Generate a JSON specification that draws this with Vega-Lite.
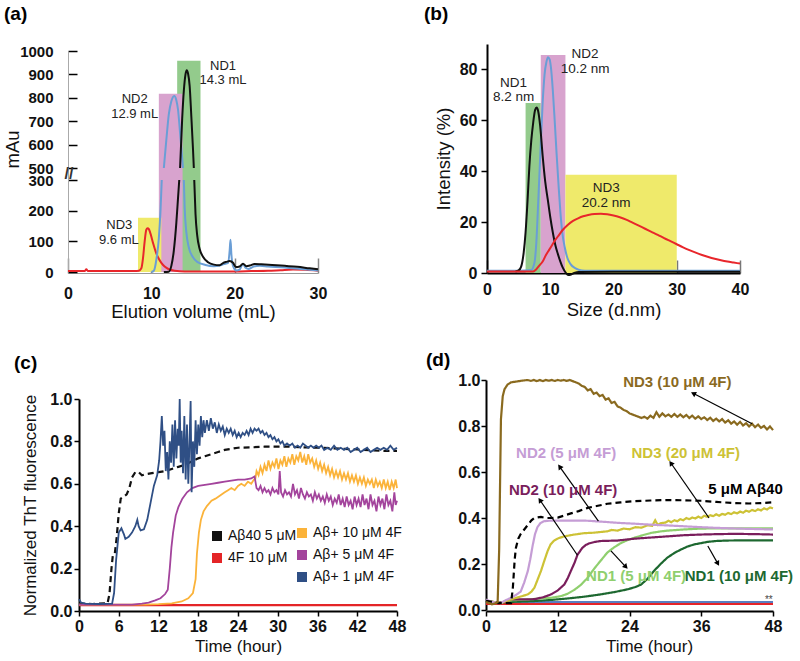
{
"$schema": "https://vega.github.io/schema/vega-lite/v6.json",
"background": "white",
"padding": {"left": 3, "top": 5, "right": 5, "bottom": 5},
"config": {
  "font": "Liberation Sans",
  "view": {"stroke": null},
  "axis": {"labelFont": "Liberation Sans", "labelFontWeight": "bold", "labelFontSize": 16, "labelColor": "#111", "titleFont": "Liberation Sans", "titleFontWeight": "normal", "titleFontSize": 17, "titleColor": "#111", "domainColor": "#000", "domainWidth": 2, "tickColor": "#000", "tickWidth": 1.5, "grid": false, "labelOverlap": false, "labelFlush": false},
  "title": {"font": "Liberation Sans", "fontSize": 19, "fontWeight": "bold", "anchor": "start", "frame": "group", "color": "#000"},
  "legend": {"labelFont": "Liberation Sans", "labelFontSize": 14, "labelColor": "#111"}
},
"datasets": {
  "a_rects": [
    {"band": "ND1", "x": 13.1, "xe": 15.9, "y": 958},
    {"band": "ND2", "x": 10.9, "xe": 13.75, "y": 817},
    {"band": "ND3", "x": 8.4, "xe": 11.2, "y": 177}
  ],
  "a_curves": [
    {"s": "ND3", "seg": "r", "x": 0, "y": 3}, {"s": "ND3", "seg": "r", "x": 1, "y": 3}, {"s": "ND3", "seg": "r", "x": 2.0, "y": 3}, {"s": "ND3", "seg": "r", "x": 2.2, "y": 9}, {"s": "ND3", "seg": "r", "x": 2.4, "y": 3}, {"s": "ND3", "seg": "r", "x": 4, "y": 3}, {"s": "ND3", "seg": "r", "x": 6, "y": 3}, {"s": "ND3", "seg": "r", "x": 8, "y": 3}, {"s": "ND3", "seg": "r", "x": 8.5, "y": 4}, {"s": "ND3", "seg": "r", "x": 8.8, "y": 12}, {"s": "ND3", "seg": "r", "x": 9.0, "y": 45}, {"s": "ND3", "seg": "r", "x": 9.2, "y": 100}, {"s": "ND3", "seg": "r", "x": 9.4, "y": 138}, {"s": "ND3", "seg": "r", "x": 9.55, "y": 143}, {"s": "ND3", "seg": "r", "x": 9.7, "y": 140}, {"s": "ND3", "seg": "r", "x": 9.9, "y": 125}, {"s": "ND3", "seg": "r", "x": 10.2, "y": 95}, {"s": "ND3", "seg": "r", "x": 10.5, "y": 68}, {"s": "ND3", "seg": "r", "x": 10.8, "y": 48}, {"s": "ND3", "seg": "r", "x": 11.2, "y": 30}, {"s": "ND3", "seg": "r", "x": 11.6, "y": 18}, {"s": "ND3", "seg": "r", "x": 12.1, "y": 9}, {"s": "ND3", "seg": "r", "x": 12.8, "y": 4}, {"s": "ND3", "seg": "r", "x": 14, "y": 2}, {"s": "ND3", "seg": "r", "x": 16, "y": 2}, {"s": "ND3", "seg": "r", "x": 18, "y": 2}, {"s": "ND3", "seg": "r", "x": 20, "y": 2}, {"s": "ND3", "seg": "r", "x": 22, "y": 3}, {"s": "ND3", "seg": "r", "x": 24, "y": 4}, {"s": "ND3", "seg": "r", "x": 25.5, "y": 6}, {"s": "ND3", "seg": "r", "x": 27, "y": 8}, {"s": "ND3", "seg": "r", "x": 28.5, "y": 7}, {"s": "ND3", "seg": "r", "x": 30, "y": 4},
    {"s": "ND2", "seg": "b1", "x": 10.0, "y": 0}, {"s": "ND2", "seg": "b1", "x": 10.3, "y": 4}, {"s": "ND2", "seg": "b1", "x": 10.6, "y": 40}, {"s": "ND2", "seg": "b1", "x": 10.9, "y": 110}, {"s": "ND2", "seg": "b1", "x": 11.1, "y": 200}, {"s": "ND2", "seg": "b1", "x": 11.25, "y": 300},
    {"s": "ND2", "seg": "b2", "x": 11.5, "y": 500}, {"s": "ND2", "seg": "b2", "x": 11.8, "y": 620}, {"s": "ND2", "seg": "b2", "x": 12.1, "y": 730}, {"s": "ND2", "seg": "b2", "x": 12.4, "y": 785}, {"s": "ND2", "seg": "b2", "x": 12.75, "y": 808}, {"s": "ND2", "seg": "b2", "x": 13.0, "y": 790}, {"s": "ND2", "seg": "b2", "x": 13.2, "y": 750}, {"s": "ND2", "seg": "b2", "x": 13.45, "y": 650}, {"s": "ND2", "seg": "b2", "x": 13.8, "y": 500},
    {"s": "ND2", "seg": "b3", "x": 13.9, "y": 300}, {"s": "ND2", "seg": "b3", "x": 14.0, "y": 210}, {"s": "ND2", "seg": "b3", "x": 14.2, "y": 130}, {"s": "ND2", "seg": "b3", "x": 14.5, "y": 80}, {"s": "ND2", "seg": "b3", "x": 15.0, "y": 48}, {"s": "ND2", "seg": "b3", "x": 15.5, "y": 33}, {"s": "ND2", "seg": "b3", "x": 16.5, "y": 23}, {"s": "ND2", "seg": "b3", "x": 17.5, "y": 19}, {"s": "ND2", "seg": "b3", "x": 18.2, "y": 21}, {"s": "ND2", "seg": "b3", "x": 18.7, "y": 26}, {"s": "ND2", "seg": "b3", "x": 19.2, "y": 29}, {"s": "ND2", "seg": "b3", "x": 19.4, "y": 70}, {"s": "ND2", "seg": "b3", "x": 19.5, "y": 105}, {"s": "ND2", "seg": "b3", "x": 19.6, "y": 60}, {"s": "ND2", "seg": "b3", "x": 19.8, "y": 20}, {"s": "ND2", "seg": "b3", "x": 20.2, "y": 5}, {"s": "ND2", "seg": "b3", "x": 20.6, "y": 8}, {"s": "ND2", "seg": "b3", "x": 21.0, "y": 27}, {"s": "ND2", "seg": "b3", "x": 21.3, "y": 14}, {"s": "ND2", "seg": "b3", "x": 21.7, "y": 10}, {"s": "ND2", "seg": "b3", "x": 22.3, "y": 18}, {"s": "ND2", "seg": "b3", "x": 23, "y": 20}, {"s": "ND2", "seg": "b3", "x": 24, "y": 18}, {"s": "ND2", "seg": "b3", "x": 26, "y": 15}, {"s": "ND2", "seg": "b3", "x": 28, "y": 10}, {"s": "ND2", "seg": "b3", "x": 30, "y": 5},
    {"s": "ND1", "seg": "k1", "x": 11.5, "y": 0}, {"s": "ND1", "seg": "k1", "x": 12.1, "y": 1}, {"s": "ND1", "seg": "k1", "x": 12.4, "y": 20}, {"s": "ND1", "seg": "k1", "x": 12.7, "y": 70}, {"s": "ND1", "seg": "k1", "x": 13.0, "y": 160}, {"s": "ND1", "seg": "k1", "x": 13.2, "y": 240}, {"s": "ND1", "seg": "k1", "x": 13.35, "y": 300},
    {"s": "ND1", "seg": "k2", "x": 13.45, "y": 500}, {"s": "ND1", "seg": "k2", "x": 13.7, "y": 710}, {"s": "ND1", "seg": "k2", "x": 13.9, "y": 830}, {"s": "ND1", "seg": "k2", "x": 14.1, "y": 900}, {"s": "ND1", "seg": "k2", "x": 14.25, "y": 918}, {"s": "ND1", "seg": "k2", "x": 14.4, "y": 905}, {"s": "ND1", "seg": "k2", "x": 14.6, "y": 850}, {"s": "ND1", "seg": "k2", "x": 14.8, "y": 720}, {"s": "ND1", "seg": "k2", "x": 15.0, "y": 580}, {"s": "ND1", "seg": "k2", "x": 15.1, "y": 500},
    {"s": "ND1", "seg": "k3", "x": 15.15, "y": 300}, {"s": "ND1", "seg": "k3", "x": 15.3, "y": 190}, {"s": "ND1", "seg": "k3", "x": 15.5, "y": 120}, {"s": "ND1", "seg": "k3", "x": 15.8, "y": 75}, {"s": "ND1", "seg": "k3", "x": 16.2, "y": 50}, {"s": "ND1", "seg": "k3", "x": 16.8, "y": 32}, {"s": "ND1", "seg": "k3", "x": 17.5, "y": 24}, {"s": "ND1", "seg": "k3", "x": 18.2, "y": 22}, {"s": "ND1", "seg": "k3", "x": 18.6, "y": 29}, {"s": "ND1", "seg": "k3", "x": 19.0, "y": 33}, {"s": "ND1", "seg": "k3", "x": 19.4, "y": 36}, {"s": "ND1", "seg": "k3", "x": 19.8, "y": 30}, {"s": "ND1", "seg": "k3", "x": 20.15, "y": 16}, {"s": "ND1", "seg": "k3", "x": 20.6, "y": 18}, {"s": "ND1", "seg": "k3", "x": 21.0, "y": 27}, {"s": "ND1", "seg": "k3", "x": 21.4, "y": 19}, {"s": "ND1", "seg": "k3", "x": 21.8, "y": 21}, {"s": "ND1", "seg": "k3", "x": 22.4, "y": 26}, {"s": "ND1", "seg": "k3", "x": 23.2, "y": 25}, {"s": "ND1", "seg": "k3", "x": 24.5, "y": 23}, {"s": "ND1", "seg": "k3", "x": 26, "y": 20}, {"s": "ND1", "seg": "k3", "x": 27.5, "y": 17}, {"s": "ND1", "seg": "k3", "x": 29, "y": 12}, {"s": "ND1", "seg": "k3", "x": 30, "y": 9}
  ],
  "a_labels": [
    {"x": 18.6, "y": 936, "label": "ND1"}, {"x": 18.6, "y": 876, "label": "14.3 mL"},
    {"x": 8.0, "y": 793, "label": "ND2"}, {"x": 8.0, "y": 729, "label": "12.9 mL"},
    {"x": 6.15, "y": 152, "label": "ND3"}, {"x": 6.1, "y": 104, "label": "9.6 mL"}
  ],
  "a_break": [{"x": 0, "y": 400, "label": "//"}],
  "b_rects": [
    {"band": "ND1", "x0": 6.1, "x1": 8.5, "top": 66.8},
    {"band": "ND2", "x0": 8.5, "x1": 12.4, "top": 85.7},
    {"band": "ND3", "x0": 12.4, "x1": 30, "top": 38.6}
  ],
  "b_curves": [
    {"s": "ND2", "x": 0, "y": 0.9}, {"s": "ND2", "x": 5, "y": 0.9}, {"s": "ND2", "x": 7, "y": 1.2}, {"s": "ND2", "x": 7.5, "y": 4}, {"s": "ND2", "x": 7.8, "y": 12}, {"s": "ND2", "x": 8.1, "y": 28}, {"s": "ND2", "x": 8.4, "y": 45}, {"s": "ND2", "x": 8.8, "y": 67}, {"s": "ND2", "x": 9.1, "y": 78}, {"s": "ND2", "x": 9.4, "y": 83}, {"s": "ND2", "x": 9.65, "y": 84.8}, {"s": "ND2", "x": 9.9, "y": 84}, {"s": "ND2", "x": 10.1, "y": 81}, {"s": "ND2", "x": 10.4, "y": 72}, {"s": "ND2", "x": 10.7, "y": 60}, {"s": "ND2", "x": 11.0, "y": 47}, {"s": "ND2", "x": 11.3, "y": 35}, {"s": "ND2", "x": 11.6, "y": 24}, {"s": "ND2", "x": 11.9, "y": 16}, {"s": "ND2", "x": 12.3, "y": 10}, {"s": "ND2", "x": 12.7, "y": 6}, {"s": "ND2", "x": 13.2, "y": 3.5}, {"s": "ND2", "x": 14, "y": 1.8}, {"s": "ND2", "x": 15, "y": 1}, {"s": "ND2", "x": 16, "y": 0.9}, {"s": "ND2", "x": 20, "y": 0.9}, {"s": "ND2", "x": 30, "y": 0.9}, {"s": "ND2", "x": 40, "y": 0.9},
    {"s": "ND1", "x": 4.5, "y": 0.6}, {"s": "ND1", "x": 5, "y": 1}, {"s": "ND1", "x": 5.4, "y": 2.5}, {"s": "ND1", "x": 5.8, "y": 8}, {"s": "ND1", "x": 6.1, "y": 16}, {"s": "ND1", "x": 6.4, "y": 28}, {"s": "ND1", "x": 6.7, "y": 42}, {"s": "ND1", "x": 7.0, "y": 52}, {"s": "ND1", "x": 7.3, "y": 59}, {"s": "ND1", "x": 7.6, "y": 64}, {"s": "ND1", "x": 7.85, "y": 65}, {"s": "ND1", "x": 8.1, "y": 63.5}, {"s": "ND1", "x": 8.4, "y": 58}, {"s": "ND1", "x": 8.8, "y": 46}, {"s": "ND1", "x": 9.2, "y": 36}, {"s": "ND1", "x": 9.6, "y": 29}, {"s": "ND1", "x": 10.0, "y": 22}, {"s": "ND1", "x": 10.4, "y": 16}, {"s": "ND1", "x": 10.8, "y": 11}, {"s": "ND1", "x": 11.2, "y": 7.5}, {"s": "ND1", "x": 11.6, "y": 4.5}, {"s": "ND1", "x": 12.0, "y": 2}, {"s": "ND1", "x": 12.4, "y": 0.3}, {"s": "ND1", "x": 12.8, "y": -0.8}, {"s": "ND1", "x": 13.3, "y": -0.6}, {"s": "ND1", "x": 13.8, "y": 0}, {"s": "ND1", "x": 14.5, "y": 0.4}, {"s": "ND1", "x": 20, "y": 0.5}, {"s": "ND1", "x": 30, "y": 0.5}, {"s": "ND1", "x": 40, "y": 0.5},
    {"s": "ND3", "x": 0, "y": 0.6}, {"s": "ND3", "x": 3, "y": 0.6}, {"s": "ND3", "x": 7.3, "y": 0.6}, {"s": "ND3", "x": 7.8, "y": 1.5}, {"s": "ND3", "x": 8.3, "y": 3}, {"s": "ND3", "x": 8.8, "y": 4.5}, {"s": "ND3", "x": 9.3, "y": 7}, {"s": "ND3", "x": 9.8, "y": 9}, {"s": "ND3", "x": 10.3, "y": 11}, {"s": "ND3", "x": 10.8, "y": 13}, {"s": "ND3", "x": 11.4, "y": 15}, {"s": "ND3", "x": 12, "y": 17}, {"s": "ND3", "x": 12.8, "y": 19}, {"s": "ND3", "x": 13.6, "y": 20.5}, {"s": "ND3", "x": 14.4, "y": 21.5}, {"s": "ND3", "x": 15.2, "y": 22.3}, {"s": "ND3", "x": 16, "y": 22.8}, {"s": "ND3", "x": 17, "y": 23.2}, {"s": "ND3", "x": 18, "y": 23.3}, {"s": "ND3", "x": 19, "y": 23.1}, {"s": "ND3", "x": 20, "y": 22.6}, {"s": "ND3", "x": 21, "y": 21.9}, {"s": "ND3", "x": 22, "y": 21.0}, {"s": "ND3", "x": 23, "y": 19.8}, {"s": "ND3", "x": 24, "y": 18.6}, {"s": "ND3", "x": 25, "y": 17.4}, {"s": "ND3", "x": 26, "y": 16.2}, {"s": "ND3", "x": 27, "y": 15.0}, {"s": "ND3", "x": 28, "y": 13.7}, {"s": "ND3", "x": 29, "y": 12.5}, {"s": "ND3", "x": 30, "y": 11.3}, {"s": "ND3", "x": 31, "y": 10.1}, {"s": "ND3", "x": 32, "y": 9.0}, {"s": "ND3", "x": 33, "y": 8.0}, {"s": "ND3", "x": 34, "y": 7.1}, {"s": "ND3", "x": 35, "y": 6.3}, {"s": "ND3", "x": 36, "y": 5.6}, {"s": "ND3", "x": 37, "y": 5.0}, {"s": "ND3", "x": 38, "y": 4.5}, {"s": "ND3", "x": 39, "y": 4.1}, {"s": "ND3", "x": 40, "y": 3.7}
  ],
  "b_labels": [
    {"x": 4.2, "y": 74.7, "label": "ND1"}, {"x": 4.2, "y": 69, "label": "8.2 nm"},
    {"x": 15.5, "y": 85.9, "label": "ND2"}, {"x": 15.5, "y": 80.1, "label": "10.2 nm"},
    {"x": 18.85, "y": 33.4, "label": "ND3"}, {"x": 18.85, "y": 27.7, "label": "20.2 nm"}
  ],
  "c_ref": [
    {"s": "Aβ40 5 μM", "x": 0, "y": 0.035}, {"s": "Aβ40 5 μM", "x": 2, "y": 0.033}, {"s": "Aβ40 5 μM", "x": 4.3, "y": 0.036}, {"s": "Aβ40 5 μM", "x": 4.6, "y": 0.08}, {"s": "Aβ40 5 μM", "x": 4.9, "y": 0.2}, {"s": "Aβ40 5 μM", "x": 5.1, "y": 0.26}, {"s": "Aβ40 5 μM", "x": 5.4, "y": 0.27}, {"s": "Aβ40 5 μM", "x": 5.7, "y": 0.35}, {"s": "Aβ40 5 μM", "x": 6.0, "y": 0.46}, {"s": "Aβ40 5 μM", "x": 6.3, "y": 0.53}, {"s": "Aβ40 5 μM", "x": 6.8, "y": 0.54}, {"s": "Aβ40 5 μM", "x": 7.2, "y": 0.55}, {"s": "Aβ40 5 μM", "x": 7.6, "y": 0.58}, {"s": "Aβ40 5 μM", "x": 8.0, "y": 0.63}, {"s": "Aβ40 5 μM", "x": 8.5, "y": 0.655}, {"s": "Aβ40 5 μM", "x": 9.0, "y": 0.655}, {"s": "Aβ40 5 μM", "x": 9.5, "y": 0.64}, {"s": "Aβ40 5 μM", "x": 10.0, "y": 0.645}, {"s": "Aβ40 5 μM", "x": 11, "y": 0.65}, {"s": "Aβ40 5 μM", "x": 12, "y": 0.655}, {"s": "Aβ40 5 μM", "x": 13, "y": 0.66}, {"s": "Aβ40 5 μM", "x": 14, "y": 0.67}, {"s": "Aβ40 5 μM", "x": 15, "y": 0.68}, {"s": "Aβ40 5 μM", "x": 16, "y": 0.69}, {"s": "Aβ40 5 μM", "x": 17, "y": 0.705}, {"s": "Aβ40 5 μM", "x": 18, "y": 0.72}, {"s": "Aβ40 5 μM", "x": 19, "y": 0.73}, {"s": "Aβ40 5 μM", "x": 20, "y": 0.74}, {"s": "Aβ40 5 μM", "x": 21, "y": 0.75}, {"s": "Aβ40 5 μM", "x": 22, "y": 0.76}, {"s": "Aβ40 5 μM", "x": 23, "y": 0.765}, {"s": "Aβ40 5 μM", "x": 24, "y": 0.77}, {"s": "Aβ40 5 μM", "x": 26, "y": 0.772}, {"s": "Aβ40 5 μM", "x": 28, "y": 0.775}, {"s": "Aβ40 5 μM", "x": 30, "y": 0.775}, {"s": "Aβ40 5 μM", "x": 32, "y": 0.775}, {"s": "Aβ40 5 μM", "x": 34, "y": 0.772}, {"s": "Aβ40 5 μM", "x": 36, "y": 0.77}, {"s": "Aβ40 5 μM", "x": 38, "y": 0.768}, {"s": "Aβ40 5 μM", "x": 40, "y": 0.765}, {"s": "Aβ40 5 μM", "x": 42, "y": 0.762}, {"s": "Aβ40 5 μM", "x": 44, "y": 0.758}, {"s": "Aβ40 5 μM", "x": 46, "y": 0.755}, {"s": "Aβ40 5 μM", "x": 48, "y": 0.755},
    {"s": "4F 10 μM", "x": 0, "y": 0.028}, {"s": "4F 10 μM", "x": 12, "y": 0.028}, {"s": "4F 10 μM", "x": 24, "y": 0.028}, {"s": "4F 10 μM", "x": 36, "y": 0.028}, {"s": "4F 10 μM", "x": 48, "y": 0.028}
  ],
  "c_ab": [
    {"s": "Aβ+ 10 μM 4F", "x": 0, "y": 0.03}, {"s": "Aβ+ 10 μM 4F", "x": 6, "y": 0.03}, {"s": "Aβ+ 10 μM 4F", "x": 10, "y": 0.03}, {"s": "Aβ+ 10 μM 4F", "x": 12, "y": 0.032}, {"s": "Aβ+ 10 μM 4F", "x": 14, "y": 0.036}, {"s": "Aβ+ 10 μM 4F", "x": 15.5, "y": 0.045}, {"s": "Aβ+ 10 μM 4F", "x": 16.5, "y": 0.06}, {"s": "Aβ+ 10 μM 4F", "x": 17.2, "y": 0.085}, {"s": "Aβ+ 10 μM 4F", "x": 17.6, "y": 0.15}, {"s": "Aβ+ 10 μM 4F", "x": 17.8, "y": 0.27}, {"s": "Aβ+ 10 μM 4F", "x": 18.1, "y": 0.37}, {"s": "Aβ+ 10 μM 4F", "x": 18.4, "y": 0.43}, {"s": "Aβ+ 10 μM 4F", "x": 18.8, "y": 0.47}, {"s": "Aβ+ 10 μM 4F", "x": 19.3, "y": 0.495}, {"s": "Aβ+ 10 μM 4F", "x": 20, "y": 0.52}, {"s": "Aβ+ 10 μM 4F", "x": 20.6, "y": 0.53}, {"s": "Aβ+ 10 μM 4F", "x": 21.3, "y": 0.545}, {"s": "Aβ+ 10 μM 4F", "x": 22, "y": 0.56}, {"s": "Aβ+ 10 μM 4F", "x": 22.5, "y": 0.57}, {"s": "Aβ+ 10 μM 4F", "x": 23, "y": 0.58}, {"s": "Aβ+ 10 μM 4F", "x": 23.5, "y": 0.57}, {"s": "Aβ+ 10 μM 4F", "x": 24, "y": 0.59}, {"s": "Aβ+ 10 μM 4F", "x": 24.5, "y": 0.6}, {"s": "Aβ+ 10 μM 4F", "x": 25, "y": 0.59}, {"s": "Aβ+ 10 μM 4F", "x": 25.5, "y": 0.61}, {"s": "Aβ+ 10 μM 4F", "x": 26, "y": 0.6}, {"s": "Aβ+ 10 μM 4F", "x": 26.4, "y": 0.62}, {"s": "Aβ+ 10 μM 4F", "x": 26.6, "y": 0.62}, {"s": "Aβ+ 10 μM 4F", "x": 26.8, "y": 0.66}, {"s": "Aβ+ 10 μM 4F", "x": 27.1, "y": 0.64}, {"s": "Aβ+ 10 μM 4F", "x": 27.4, "y": 0.68}, {"s": "Aβ+ 10 μM 4F", "x": 27.7, "y": 0.65}, {"s": "Aβ+ 10 μM 4F", "x": 28.0, "y": 0.69}, {"s": "Aβ+ 10 μM 4F", "x": 28.3, "y": 0.66}, {"s": "Aβ+ 10 μM 4F", "x": 28.6, "y": 0.71}, {"s": "Aβ+ 10 μM 4F", "x": 28.9, "y": 0.67}, {"s": "Aβ+ 10 μM 4F", "x": 29.2, "y": 0.7}, {"s": "Aβ+ 10 μM 4F", "x": 29.5, "y": 0.68}, {"s": "Aβ+ 10 μM 4F", "x": 29.8, "y": 0.72}, {"s": "Aβ+ 10 μM 4F", "x": 30.1, "y": 0.67}, {"s": "Aβ+ 10 μM 4F", "x": 30.4, "y": 0.71}, {"s": "Aβ+ 10 μM 4F", "x": 30.7, "y": 0.69}, {"s": "Aβ+ 10 μM 4F", "x": 31.0, "y": 0.73}, {"s": "Aβ+ 10 μM 4F", "x": 31.3, "y": 0.68}, {"s": "Aβ+ 10 μM 4F", "x": 31.6, "y": 0.72}, {"s": "Aβ+ 10 μM 4F", "x": 31.9, "y": 0.7}, {"s": "Aβ+ 10 μM 4F", "x": 32.2, "y": 0.74}, {"s": "Aβ+ 10 μM 4F", "x": 32.5, "y": 0.69}, {"s": "Aβ+ 10 μM 4F", "x": 32.8, "y": 0.73}, {"s": "Aβ+ 10 μM 4F", "x": 33.1, "y": 0.71}, {"s": "Aβ+ 10 μM 4F", "x": 33.4, "y": 0.75}, {"s": "Aβ+ 10 μM 4F", "x": 33.7, "y": 0.7}, {"s": "Aβ+ 10 μM 4F", "x": 34.0, "y": 0.73}, {"s": "Aβ+ 10 μM 4F", "x": 34.3, "y": 0.69}, {"s": "Aβ+ 10 μM 4F", "x": 34.6, "y": 0.74}, {"s": "Aβ+ 10 μM 4F", "x": 34.9, "y": 0.7}, {"s": "Aβ+ 10 μM 4F", "x": 35.2, "y": 0.72}, {"s": "Aβ+ 10 μM 4F", "x": 35.5, "y": 0.68}, {"s": "Aβ+ 10 μM 4F", "x": 35.8, "y": 0.71}, {"s": "Aβ+ 10 μM 4F", "x": 36.1, "y": 0.67}, {"s": "Aβ+ 10 μM 4F", "x": 36.4, "y": 0.7}, {"s": "Aβ+ 10 μM 4F", "x": 36.7, "y": 0.66}, {"s": "Aβ+ 10 μM 4F", "x": 37.0, "y": 0.69}, {"s": "Aβ+ 10 μM 4F", "x": 37.3, "y": 0.65}, {"s": "Aβ+ 10 μM 4F", "x": 37.6, "y": 0.68}, {"s": "Aβ+ 10 μM 4F", "x": 37.9, "y": 0.64}, {"s": "Aβ+ 10 μM 4F", "x": 38.2, "y": 0.67}, {"s": "Aβ+ 10 μM 4F", "x": 38.5, "y": 0.63}, {"s": "Aβ+ 10 μM 4F", "x": 38.8, "y": 0.66}, {"s": "Aβ+ 10 μM 4F", "x": 39.1, "y": 0.63}, {"s": "Aβ+ 10 μM 4F", "x": 39.4, "y": 0.66}, {"s": "Aβ+ 10 μM 4F", "x": 39.7, "y": 0.62}, {"s": "Aβ+ 10 μM 4F", "x": 40.0, "y": 0.65}, {"s": "Aβ+ 10 μM 4F", "x": 40.3, "y": 0.62}, {"s": "Aβ+ 10 μM 4F", "x": 40.6, "y": 0.65}, {"s": "Aβ+ 10 μM 4F", "x": 40.9, "y": 0.61}, {"s": "Aβ+ 10 μM 4F", "x": 41.2, "y": 0.64}, {"s": "Aβ+ 10 μM 4F", "x": 41.5, "y": 0.61}, {"s": "Aβ+ 10 μM 4F", "x": 41.8, "y": 0.64}, {"s": "Aβ+ 10 μM 4F", "x": 42.1, "y": 0.6}, {"s": "Aβ+ 10 μM 4F", "x": 42.4, "y": 0.63}, {"s": "Aβ+ 10 μM 4F", "x": 42.7, "y": 0.6}, {"s": "Aβ+ 10 μM 4F", "x": 43.0, "y": 0.63}, {"s": "Aβ+ 10 μM 4F", "x": 43.3, "y": 0.59}, {"s": "Aβ+ 10 μM 4F", "x": 43.6, "y": 0.62}, {"s": "Aβ+ 10 μM 4F", "x": 43.9, "y": 0.6}, {"s": "Aβ+ 10 μM 4F", "x": 44.2, "y": 0.62}, {"s": "Aβ+ 10 μM 4F", "x": 44.5, "y": 0.58}, {"s": "Aβ+ 10 μM 4F", "x": 44.8, "y": 0.62}, {"s": "Aβ+ 10 μM 4F", "x": 45.1, "y": 0.59}, {"s": "Aβ+ 10 μM 4F", "x": 45.4, "y": 0.61}, {"s": "Aβ+ 10 μM 4F", "x": 45.7, "y": 0.58}, {"s": "Aβ+ 10 μM 4F", "x": 46.0, "y": 0.62}, {"s": "Aβ+ 10 μM 4F", "x": 46.3, "y": 0.58}, {"s": "Aβ+ 10 μM 4F", "x": 46.6, "y": 0.61}, {"s": "Aβ+ 10 μM 4F", "x": 46.9, "y": 0.57}, {"s": "Aβ+ 10 μM 4F", "x": 47.2, "y": 0.61}, {"s": "Aβ+ 10 μM 4F", "x": 47.5, "y": 0.58}, {"s": "Aβ+ 10 μM 4F", "x": 47.8, "y": 0.62}, {"s": "Aβ+ 10 μM 4F", "x": 48.0, "y": 0.58},
    {"s": "Aβ+ 5 μM 4F", "x": 0, "y": 0.03}, {"s": "Aβ+ 5 μM 4F", "x": 8, "y": 0.03}, {"s": "Aβ+ 5 μM 4F", "x": 9.5, "y": 0.035}, {"s": "Aβ+ 5 μM 4F", "x": 10.5, "y": 0.04}, {"s": "Aβ+ 5 μM 4F", "x": 11.5, "y": 0.05}, {"s": "Aβ+ 5 μM 4F", "x": 12.3, "y": 0.06}, {"s": "Aβ+ 5 μM 4F", "x": 13.0, "y": 0.08}, {"s": "Aβ+ 5 μM 4F", "x": 13.4, "y": 0.1}, {"s": "Aβ+ 5 μM 4F", "x": 13.7, "y": 0.2}, {"s": "Aβ+ 5 μM 4F", "x": 13.95, "y": 0.3}, {"s": "Aβ+ 5 μM 4F", "x": 14.2, "y": 0.37}, {"s": "Aβ+ 5 μM 4F", "x": 14.6, "y": 0.45}, {"s": "Aβ+ 5 μM 4F", "x": 15.0, "y": 0.49}, {"s": "Aβ+ 5 μM 4F", "x": 15.6, "y": 0.53}, {"s": "Aβ+ 5 μM 4F", "x": 16.3, "y": 0.56}, {"s": "Aβ+ 5 μM 4F", "x": 17.1, "y": 0.58}, {"s": "Aβ+ 5 μM 4F", "x": 18, "y": 0.59}, {"s": "Aβ+ 5 μM 4F", "x": 19, "y": 0.595}, {"s": "Aβ+ 5 μM 4F", "x": 20, "y": 0.6}, {"s": "Aβ+ 5 μM 4F", "x": 21, "y": 0.605}, {"s": "Aβ+ 5 μM 4F", "x": 22, "y": 0.61}, {"s": "Aβ+ 5 μM 4F", "x": 23, "y": 0.615}, {"s": "Aβ+ 5 μM 4F", "x": 24, "y": 0.62}, {"s": "Aβ+ 5 μM 4F", "x": 25, "y": 0.62}, {"s": "Aβ+ 5 μM 4F", "x": 26, "y": 0.625}, {"s": "Aβ+ 5 μM 4F", "x": 26.5, "y": 0.635}, {"s": "Aβ+ 5 μM 4F", "x": 26.8, "y": 0.58}, {"s": "Aβ+ 5 μM 4F", "x": 27.1, "y": 0.57}, {"s": "Aβ+ 5 μM 4F", "x": 27.4, "y": 0.59}, {"s": "Aβ+ 5 μM 4F", "x": 27.7, "y": 0.56}, {"s": "Aβ+ 5 μM 4F", "x": 28.0, "y": 0.58}, {"s": "Aβ+ 5 μM 4F", "x": 28.3, "y": 0.56}, {"s": "Aβ+ 5 μM 4F", "x": 28.6, "y": 0.57}, {"s": "Aβ+ 5 μM 4F", "x": 28.9, "y": 0.55}, {"s": "Aβ+ 5 μM 4F", "x": 29.2, "y": 0.58}, {"s": "Aβ+ 5 μM 4F", "x": 29.5, "y": 0.56}, {"s": "Aβ+ 5 μM 4F", "x": 29.8, "y": 0.57}, {"s": "Aβ+ 5 μM 4F", "x": 30.1, "y": 0.55}, {"s": "Aβ+ 5 μM 4F", "x": 30.3, "y": 0.66}, {"s": "Aβ+ 5 μM 4F", "x": 30.5, "y": 0.56}, {"s": "Aβ+ 5 μM 4F", "x": 30.8, "y": 0.54}, {"s": "Aβ+ 5 μM 4F", "x": 31.1, "y": 0.57}, {"s": "Aβ+ 5 μM 4F", "x": 31.4, "y": 0.55}, {"s": "Aβ+ 5 μM 4F", "x": 31.7, "y": 0.56}, {"s": "Aβ+ 5 μM 4F", "x": 32.0, "y": 0.54}, {"s": "Aβ+ 5 μM 4F", "x": 32.3, "y": 0.6}, {"s": "Aβ+ 5 μM 4F", "x": 32.6, "y": 0.55}, {"s": "Aβ+ 5 μM 4F", "x": 32.9, "y": 0.57}, {"s": "Aβ+ 5 μM 4F", "x": 33.2, "y": 0.53}, {"s": "Aβ+ 5 μM 4F", "x": 33.5, "y": 0.58}, {"s": "Aβ+ 5 μM 4F", "x": 33.8, "y": 0.55}, {"s": "Aβ+ 5 μM 4F", "x": 34.1, "y": 0.53}, {"s": "Aβ+ 5 μM 4F", "x": 34.4, "y": 0.56}, {"s": "Aβ+ 5 μM 4F", "x": 34.7, "y": 0.54}, {"s": "Aβ+ 5 μM 4F", "x": 35.0, "y": 0.55}, {"s": "Aβ+ 5 μM 4F", "x": 35.3, "y": 0.52}, {"s": "Aβ+ 5 μM 4F", "x": 35.6, "y": 0.56}, {"s": "Aβ+ 5 μM 4F", "x": 35.9, "y": 0.53}, {"s": "Aβ+ 5 μM 4F", "x": 36.2, "y": 0.55}, {"s": "Aβ+ 5 μM 4F", "x": 36.5, "y": 0.52}, {"s": "Aβ+ 5 μM 4F", "x": 36.8, "y": 0.54}, {"s": "Aβ+ 5 μM 4F", "x": 37.1, "y": 0.51}, {"s": "Aβ+ 5 μM 4F", "x": 37.4, "y": 0.55}, {"s": "Aβ+ 5 μM 4F", "x": 37.7, "y": 0.52}, {"s": "Aβ+ 5 μM 4F", "x": 38.0, "y": 0.54}, {"s": "Aβ+ 5 μM 4F", "x": 38.3, "y": 0.5}, {"s": "Aβ+ 5 μM 4F", "x": 38.6, "y": 0.53}, {"s": "Aβ+ 5 μM 4F", "x": 38.9, "y": 0.51}, {"s": "Aβ+ 5 μM 4F", "x": 39.2, "y": 0.55}, {"s": "Aβ+ 5 μM 4F", "x": 39.5, "y": 0.5}, {"s": "Aβ+ 5 μM 4F", "x": 39.8, "y": 0.53}, {"s": "Aβ+ 5 μM 4F", "x": 40.1, "y": 0.49}, {"s": "Aβ+ 5 μM 4F", "x": 40.4, "y": 0.54}, {"s": "Aβ+ 5 μM 4F", "x": 40.7, "y": 0.5}, {"s": "Aβ+ 5 μM 4F", "x": 41.0, "y": 0.52}, {"s": "Aβ+ 5 μM 4F", "x": 41.3, "y": 0.48}, {"s": "Aβ+ 5 μM 4F", "x": 41.6, "y": 0.54}, {"s": "Aβ+ 5 μM 4F", "x": 41.9, "y": 0.5}, {"s": "Aβ+ 5 μM 4F", "x": 42.2, "y": 0.53}, {"s": "Aβ+ 5 μM 4F", "x": 42.5, "y": 0.49}, {"s": "Aβ+ 5 μM 4F", "x": 42.8, "y": 0.55}, {"s": "Aβ+ 5 μM 4F", "x": 43.1, "y": 0.5}, {"s": "Aβ+ 5 μM 4F", "x": 43.4, "y": 0.53}, {"s": "Aβ+ 5 μM 4F", "x": 43.7, "y": 0.48}, {"s": "Aβ+ 5 μM 4F", "x": 44.0, "y": 0.55}, {"s": "Aβ+ 5 μM 4F", "x": 44.3, "y": 0.5}, {"s": "Aβ+ 5 μM 4F", "x": 44.6, "y": 0.52}, {"s": "Aβ+ 5 μM 4F", "x": 44.9, "y": 0.47}, {"s": "Aβ+ 5 μM 4F", "x": 45.2, "y": 0.54}, {"s": "Aβ+ 5 μM 4F", "x": 45.5, "y": 0.5}, {"s": "Aβ+ 5 μM 4F", "x": 45.8, "y": 0.53}, {"s": "Aβ+ 5 μM 4F", "x": 46.1, "y": 0.48}, {"s": "Aβ+ 5 μM 4F", "x": 46.4, "y": 0.55}, {"s": "Aβ+ 5 μM 4F", "x": 46.7, "y": 0.5}, {"s": "Aβ+ 5 μM 4F", "x": 47.0, "y": 0.52}, {"s": "Aβ+ 5 μM 4F", "x": 47.3, "y": 0.47}, {"s": "Aβ+ 5 μM 4F", "x": 47.6, "y": 0.56}, {"s": "Aβ+ 5 μM 4F", "x": 47.8, "y": 0.5}, {"s": "Aβ+ 5 μM 4F", "x": 48.0, "y": 0.52},
    {"s": "Aβ+ 1 μM 4F", "x": 0, "y": 0.055}, {"s": "Aβ+ 1 μM 4F", "x": 0.3, "y": 0.04}, {"s": "Aβ+ 1 μM 4F", "x": 1, "y": 0.035}, {"s": "Aβ+ 1 μM 4F", "x": 3, "y": 0.033}, {"s": "Aβ+ 1 μM 4F", "x": 5, "y": 0.035}, {"s": "Aβ+ 1 μM 4F", "x": 5.3, "y": 0.086}, {"s": "Aβ+ 1 μM 4F", "x": 5.6, "y": 0.24}, {"s": "Aβ+ 1 μM 4F", "x": 6.0, "y": 0.37}, {"s": "Aβ+ 1 μM 4F", "x": 6.4, "y": 0.39}, {"s": "Aβ+ 1 μM 4F", "x": 6.8, "y": 0.36}, {"s": "Aβ+ 1 μM 4F", "x": 7.0, "y": 0.34}, {"s": "Aβ+ 1 μM 4F", "x": 7.5, "y": 0.35}, {"s": "Aβ+ 1 μM 4F", "x": 8.0, "y": 0.37}, {"s": "Aβ+ 1 μM 4F", "x": 8.5, "y": 0.4}, {"s": "Aβ+ 1 μM 4F", "x": 8.8, "y": 0.43}, {"s": "Aβ+ 1 μM 4F", "x": 9.0, "y": 0.4}, {"s": "Aβ+ 1 μM 4F", "x": 9.3, "y": 0.38}, {"s": "Aβ+ 1 μM 4F", "x": 9.8, "y": 0.385}, {"s": "Aβ+ 1 μM 4F", "x": 10.3, "y": 0.43}, {"s": "Aβ+ 1 μM 4F", "x": 10.8, "y": 0.51}, {"s": "Aβ+ 1 μM 4F", "x": 11.3, "y": 0.59}, {"s": "Aβ+ 1 μM 4F", "x": 11.6, "y": 0.62}, {"s": "Aβ+ 1 μM 4F", "x": 11.8, "y": 0.64}, {"s": "Aβ+ 1 μM 4F", "x": 12.1, "y": 0.71}, {"s": "Aβ+ 1 μM 4F", "x": 12.3, "y": 0.8}, {"s": "Aβ+ 1 μM 4F", "x": 12.5, "y": 0.92}, {"s": "Aβ+ 1 μM 4F", "x": 12.7, "y": 0.78}, {"s": "Aβ+ 1 μM 4F", "x": 12.9, "y": 0.85}, {"s": "Aβ+ 1 μM 4F", "x": 13.1, "y": 0.66}, {"s": "Aβ+ 1 μM 4F", "x": 13.3, "y": 0.75}, {"s": "Aβ+ 1 μM 4F", "x": 13.5, "y": 0.62}, {"s": "Aβ+ 1 μM 4F", "x": 13.7, "y": 0.8}, {"s": "Aβ+ 1 μM 4F", "x": 13.9, "y": 0.7}, {"s": "Aβ+ 1 μM 4F", "x": 14.1, "y": 0.88}, {"s": "Aβ+ 1 μM 4F", "x": 14.3, "y": 0.68}, {"s": "Aβ+ 1 μM 4F", "x": 14.5, "y": 0.9}, {"s": "Aβ+ 1 μM 4F", "x": 14.7, "y": 0.72}, {"s": "Aβ+ 1 μM 4F", "x": 14.9, "y": 0.86}, {"s": "Aβ+ 1 μM 4F", "x": 15.05, "y": 0.78}, {"s": "Aβ+ 1 μM 4F", "x": 15.2, "y": 1.0}, {"s": "Aβ+ 1 μM 4F", "x": 15.35, "y": 0.7}, {"s": "Aβ+ 1 μM 4F", "x": 15.5, "y": 0.85}, {"s": "Aβ+ 1 μM 4F", "x": 15.7, "y": 0.65}, {"s": "Aβ+ 1 μM 4F", "x": 15.9, "y": 0.92}, {"s": "Aβ+ 1 μM 4F", "x": 16.1, "y": 0.62}, {"s": "Aβ+ 1 μM 4F", "x": 16.3, "y": 0.88}, {"s": "Aβ+ 1 μM 4F", "x": 16.5, "y": 0.6}, {"s": "Aβ+ 1 μM 4F", "x": 16.7, "y": 0.82}, {"s": "Aβ+ 1 μM 4F", "x": 16.85, "y": 0.99}, {"s": "Aβ+ 1 μM 4F", "x": 17.0, "y": 0.56}, {"s": "Aβ+ 1 μM 4F", "x": 17.2, "y": 0.8}, {"s": "Aβ+ 1 μM 4F", "x": 17.4, "y": 0.68}, {"s": "Aβ+ 1 μM 4F", "x": 17.6, "y": 0.9}, {"s": "Aβ+ 1 μM 4F", "x": 17.8, "y": 0.74}, {"s": "Aβ+ 1 μM 4F", "x": 18.0, "y": 0.88}, {"s": "Aβ+ 1 μM 4F", "x": 18.2, "y": 0.78}, {"s": "Aβ+ 1 μM 4F", "x": 18.4, "y": 0.92}, {"s": "Aβ+ 1 μM 4F", "x": 18.6, "y": 0.82}, {"s": "Aβ+ 1 μM 4F", "x": 18.8, "y": 0.9}, {"s": "Aβ+ 1 μM 4F", "x": 19.0, "y": 0.84}, {"s": "Aβ+ 1 μM 4F", "x": 19.3, "y": 0.9}, {"s": "Aβ+ 1 μM 4F", "x": 19.6, "y": 0.85}, {"s": "Aβ+ 1 μM 4F", "x": 19.9, "y": 0.91}, {"s": "Aβ+ 1 μM 4F", "x": 20.2, "y": 0.86}, {"s": "Aβ+ 1 μM 4F", "x": 20.5, "y": 0.89}, {"s": "Aβ+ 1 μM 4F", "x": 20.8, "y": 0.84}, {"s": "Aβ+ 1 μM 4F", "x": 21.1, "y": 0.88}, {"s": "Aβ+ 1 μM 4F", "x": 21.4, "y": 0.85}, {"s": "Aβ+ 1 μM 4F", "x": 21.7, "y": 0.87}, {"s": "Aβ+ 1 μM 4F", "x": 22.0, "y": 0.83}, {"s": "Aβ+ 1 μM 4F", "x": 22.3, "y": 0.86}, {"s": "Aβ+ 1 μM 4F", "x": 22.6, "y": 0.84}, {"s": "Aβ+ 1 μM 4F", "x": 22.9, "y": 0.86}, {"s": "Aβ+ 1 μM 4F", "x": 23.2, "y": 0.83}, {"s": "Aβ+ 1 μM 4F", "x": 23.5, "y": 0.85}, {"s": "Aβ+ 1 μM 4F", "x": 23.8, "y": 0.82}, {"s": "Aβ+ 1 μM 4F", "x": 24.1, "y": 0.84}, {"s": "Aβ+ 1 μM 4F", "x": 24.4, "y": 0.82}, {"s": "Aβ+ 1 μM 4F", "x": 24.7, "y": 0.84}, {"s": "Aβ+ 1 μM 4F", "x": 25.0, "y": 0.83}, {"s": "Aβ+ 1 μM 4F", "x": 25.3, "y": 0.85}, {"s": "Aβ+ 1 μM 4F", "x": 25.6, "y": 0.83}, {"s": "Aβ+ 1 μM 4F", "x": 25.9, "y": 0.86}, {"s": "Aβ+ 1 μM 4F", "x": 26.2, "y": 0.84}, {"s": "Aβ+ 1 μM 4F", "x": 26.5, "y": 0.86}, {"s": "Aβ+ 1 μM 4F", "x": 26.8, "y": 0.85}, {"s": "Aβ+ 1 μM 4F", "x": 27.1, "y": 0.86}, {"s": "Aβ+ 1 μM 4F", "x": 27.4, "y": 0.84}, {"s": "Aβ+ 1 μM 4F", "x": 27.7, "y": 0.85}, {"s": "Aβ+ 1 μM 4F", "x": 28.0, "y": 0.83}, {"s": "Aβ+ 1 μM 4F", "x": 28.3, "y": 0.84}, {"s": "Aβ+ 1 μM 4F", "x": 28.6, "y": 0.82}, {"s": "Aβ+ 1 μM 4F", "x": 28.9, "y": 0.83}, {"s": "Aβ+ 1 μM 4F", "x": 29.2, "y": 0.81}, {"s": "Aβ+ 1 μM 4F", "x": 29.5, "y": 0.82}, {"s": "Aβ+ 1 μM 4F", "x": 29.8, "y": 0.8}, {"s": "Aβ+ 1 μM 4F", "x": 30.1, "y": 0.81}, {"s": "Aβ+ 1 μM 4F", "x": 30.4, "y": 0.79}, {"s": "Aβ+ 1 μM 4F", "x": 30.7, "y": 0.8}, {"s": "Aβ+ 1 μM 4F", "x": 31.0, "y": 0.78}, {"s": "Aβ+ 1 μM 4F", "x": 31.4, "y": 0.79}, {"s": "Aβ+ 1 μM 4F", "x": 31.8, "y": 0.78}, {"s": "Aβ+ 1 μM 4F", "x": 32.2, "y": 0.79}, {"s": "Aβ+ 1 μM 4F", "x": 32.6, "y": 0.77}, {"s": "Aβ+ 1 μM 4F", "x": 33.0, "y": 0.78}, {"s": "Aβ+ 1 μM 4F", "x": 33.4, "y": 0.77}, {"s": "Aβ+ 1 μM 4F", "x": 33.8, "y": 0.79}, {"s": "Aβ+ 1 μM 4F", "x": 34.2, "y": 0.78}, {"s": "Aβ+ 1 μM 4F", "x": 34.6, "y": 0.77}, {"s": "Aβ+ 1 μM 4F", "x": 35.0, "y": 0.78}, {"s": "Aβ+ 1 μM 4F", "x": 35.4, "y": 0.77}, {"s": "Aβ+ 1 μM 4F", "x": 35.8, "y": 0.78}, {"s": "Aβ+ 1 μM 4F", "x": 36.2, "y": 0.77}, {"s": "Aβ+ 1 μM 4F", "x": 36.6, "y": 0.78}, {"s": "Aβ+ 1 μM 4F", "x": 37.0, "y": 0.76}, {"s": "Aβ+ 1 μM 4F", "x": 37.5, "y": 0.77}, {"s": "Aβ+ 1 μM 4F", "x": 38.0, "y": 0.76}, {"s": "Aβ+ 1 μM 4F", "x": 38.5, "y": 0.78}, {"s": "Aβ+ 1 μM 4F", "x": 39.0, "y": 0.76}, {"s": "Aβ+ 1 μM 4F", "x": 39.5, "y": 0.77}, {"s": "Aβ+ 1 μM 4F", "x": 40.0, "y": 0.76}, {"s": "Aβ+ 1 μM 4F", "x": 40.5, "y": 0.77}, {"s": "Aβ+ 1 μM 4F", "x": 41.0, "y": 0.75}, {"s": "Aβ+ 1 μM 4F", "x": 41.5, "y": 0.76}, {"s": "Aβ+ 1 μM 4F", "x": 42.0, "y": 0.77}, {"s": "Aβ+ 1 μM 4F", "x": 42.5, "y": 0.75}, {"s": "Aβ+ 1 μM 4F", "x": 43.0, "y": 0.76}, {"s": "Aβ+ 1 μM 4F", "x": 43.5, "y": 0.77}, {"s": "Aβ+ 1 μM 4F", "x": 44.0, "y": 0.75}, {"s": "Aβ+ 1 μM 4F", "x": 44.5, "y": 0.76}, {"s": "Aβ+ 1 μM 4F", "x": 45.0, "y": 0.77}, {"s": "Aβ+ 1 μM 4F", "x": 45.5, "y": 0.76}, {"s": "Aβ+ 1 μM 4F", "x": 46.0, "y": 0.77}, {"s": "Aβ+ 1 μM 4F", "x": 46.5, "y": 0.76}, {"s": "Aβ+ 1 μM 4F", "x": 47.0, "y": 0.78}, {"s": "Aβ+ 1 μM 4F", "x": 47.5, "y": 0.76}, {"s": "Aβ+ 1 μM 4F", "x": 48.0, "y": 0.77}
  ],
  "d_curves": [
    {"s": "buffer", "x": 0, "y": 0.034}, {"s": "buffer", "x": 48, "y": 0.034},
    {"s": "4F", "x": 0, "y": 0.026}, {"s": "4F", "x": 24, "y": 0.026}, {"s": "4F", "x": 48, "y": 0.026},
    {"s": "ND1 (10 μM 4F)", "x": 0, "y": 0.04}, {"s": "ND1 (10 μM 4F)", "x": 1.9, "y": 0.032}, {"s": "ND1 (10 μM 4F)", "x": 5, "y": 0.036}, {"s": "ND1 (10 μM 4F)", "x": 8.1, "y": 0.039}, {"s": "ND1 (10 μM 4F)", "x": 11, "y": 0.044}, {"s": "ND1 (10 μM 4F)", "x": 13.6, "y": 0.05}, {"s": "ND1 (10 μM 4F)", "x": 16.5, "y": 0.058}, {"s": "ND1 (10 μM 4F)", "x": 19.2, "y": 0.068}, {"s": "ND1 (10 μM 4F)", "x": 21.5, "y": 0.078}, {"s": "ND1 (10 μM 4F)", "x": 23.7, "y": 0.09}, {"s": "ND1 (10 μM 4F)", "x": 25, "y": 0.1}, {"s": "ND1 (10 μM 4F)", "x": 25.9, "y": 0.11}, {"s": "ND1 (10 μM 4F)", "x": 27, "y": 0.135}, {"s": "ND1 (10 μM 4F)", "x": 28.1, "y": 0.17}, {"s": "ND1 (10 μM 4F)", "x": 29.2, "y": 0.2}, {"s": "ND1 (10 μM 4F)", "x": 30.3, "y": 0.227}, {"s": "ND1 (10 μM 4F)", "x": 31.5, "y": 0.248}, {"s": "ND1 (10 μM 4F)", "x": 32.6, "y": 0.263}, {"s": "ND1 (10 μM 4F)", "x": 33.7, "y": 0.276}, {"s": "ND1 (10 μM 4F)", "x": 34.8, "y": 0.285}, {"s": "ND1 (10 μM 4F)", "x": 36, "y": 0.291}, {"s": "ND1 (10 μM 4F)", "x": 37, "y": 0.296}, {"s": "ND1 (10 μM 4F)", "x": 38.5, "y": 0.3}, {"s": "ND1 (10 μM 4F)", "x": 40.4, "y": 0.302}, {"s": "ND1 (10 μM 4F)", "x": 44, "y": 0.303}, {"s": "ND1 (10 μM 4F)", "x": 48, "y": 0.303},
    {"s": "ND1 (5 μM 4F)", "x": 0, "y": 0.04}, {"s": "ND1 (5 μM 4F)", "x": 2, "y": 0.03}, {"s": "ND1 (5 μM 4F)", "x": 4.2, "y": 0.042}, {"s": "ND1 (5 μM 4F)", "x": 7, "y": 0.046}, {"s": "ND1 (5 μM 4F)", "x": 10.9, "y": 0.053}, {"s": "ND1 (5 μM 4F)", "x": 12.5, "y": 0.06}, {"s": "ND1 (5 μM 4F)", "x": 13.6, "y": 0.07}, {"s": "ND1 (5 μM 4F)", "x": 14.8, "y": 0.088}, {"s": "ND1 (5 μM 4F)", "x": 15.9, "y": 0.11}, {"s": "ND1 (5 μM 4F)", "x": 17, "y": 0.14}, {"s": "ND1 (5 μM 4F)", "x": 18.1, "y": 0.18}, {"s": "ND1 (5 μM 4F)", "x": 19.2, "y": 0.215}, {"s": "ND1 (5 μM 4F)", "x": 20.3, "y": 0.25}, {"s": "ND1 (5 μM 4F)", "x": 21.4, "y": 0.272}, {"s": "ND1 (5 μM 4F)", "x": 22.5, "y": 0.29}, {"s": "ND1 (5 μM 4F)", "x": 23.6, "y": 0.303}, {"s": "ND1 (5 μM 4F)", "x": 24.8, "y": 0.314}, {"s": "ND1 (5 μM 4F)", "x": 26.2, "y": 0.325}, {"s": "ND1 (5 μM 4F)", "x": 27.6, "y": 0.335}, {"s": "ND1 (5 μM 4F)", "x": 29, "y": 0.341}, {"s": "ND1 (5 μM 4F)", "x": 30.3, "y": 0.345}, {"s": "ND1 (5 μM 4F)", "x": 33, "y": 0.35}, {"s": "ND1 (5 μM 4F)", "x": 35.9, "y": 0.354}, {"s": "ND1 (5 μM 4F)", "x": 40, "y": 0.355}, {"s": "ND1 (5 μM 4F)", "x": 44, "y": 0.355}, {"s": "ND1 (5 μM 4F)", "x": 48, "y": 0.355},
    {"s": "ND2 (10 μM 4F)", "x": 0, "y": 0.04}, {"s": "ND2 (10 μM 4F)", "x": 2, "y": 0.03}, {"s": "ND2 (10 μM 4F)", "x": 3, "y": 0.035}, {"s": "ND2 (10 μM 4F)", "x": 4.2, "y": 0.046}, {"s": "ND2 (10 μM 4F)", "x": 6, "y": 0.046}, {"s": "ND2 (10 μM 4F)", "x": 8.1, "y": 0.047}, {"s": "ND2 (10 μM 4F)", "x": 9.5, "y": 0.055}, {"s": "ND2 (10 μM 4F)", "x": 10.9, "y": 0.068}, {"s": "ND2 (10 μM 4F)", "x": 12, "y": 0.085}, {"s": "ND2 (10 μM 4F)", "x": 13.1, "y": 0.111}, {"s": "ND2 (10 μM 4F)", "x": 13.7, "y": 0.14}, {"s": "ND2 (10 μM 4F)", "x": 14.2, "y": 0.17}, {"s": "ND2 (10 μM 4F)", "x": 14.8, "y": 0.205}, {"s": "ND2 (10 μM 4F)", "x": 15.3, "y": 0.24}, {"s": "ND2 (10 μM 4F)", "x": 16.1, "y": 0.27}, {"s": "ND2 (10 μM 4F)", "x": 16.7, "y": 0.283}, {"s": "ND2 (10 μM 4F)", "x": 17.3, "y": 0.29}, {"s": "ND2 (10 μM 4F)", "x": 18.2, "y": 0.296}, {"s": "ND2 (10 μM 4F)", "x": 19.2, "y": 0.3}, {"s": "ND2 (10 μM 4F)", "x": 22, "y": 0.302}, {"s": "ND2 (10 μM 4F)", "x": 24.8, "y": 0.31}, {"s": "ND2 (10 μM 4F)", "x": 27.5, "y": 0.315}, {"s": "ND2 (10 μM 4F)", "x": 30.3, "y": 0.32}, {"s": "ND2 (10 μM 4F)", "x": 33, "y": 0.325}, {"s": "ND2 (10 μM 4F)", "x": 35.9, "y": 0.328}, {"s": "ND2 (10 μM 4F)", "x": 39, "y": 0.33}, {"s": "ND2 (10 μM 4F)", "x": 41.5, "y": 0.331}, {"s": "ND2 (10 μM 4F)", "x": 45, "y": 0.33}, {"s": "ND2 (10 μM 4F)", "x": 48, "y": 0.328},
    {"s": "ND3 (20 μM 4F)", "x": 0, "y": 0.04}, {"s": "ND3 (20 μM 4F)", "x": 2.5, "y": 0.03}, {"s": "ND3 (20 μM 4F)", "x": 3.5, "y": 0.04}, {"s": "ND3 (20 μM 4F)", "x": 4.7, "y": 0.05}, {"s": "ND3 (20 μM 4F)", "x": 6, "y": 0.06}, {"s": "ND3 (20 μM 4F)", "x": 7, "y": 0.068}, {"s": "ND3 (20 μM 4F)", "x": 7.6, "y": 0.08}, {"s": "ND3 (20 μM 4F)", "x": 8.1, "y": 0.097}, {"s": "ND3 (20 μM 4F)", "x": 8.6, "y": 0.13}, {"s": "ND3 (20 μM 4F)", "x": 9.2, "y": 0.17}, {"s": "ND3 (20 μM 4F)", "x": 9.7, "y": 0.21}, {"s": "ND3 (20 μM 4F)", "x": 10.3, "y": 0.256}, {"s": "ND3 (20 μM 4F)", "x": 10.8, "y": 0.285}, {"s": "ND3 (20 μM 4F)", "x": 11.4, "y": 0.302}, {"s": "ND3 (20 μM 4F)", "x": 12.2, "y": 0.313}, {"s": "ND3 (20 μM 4F)", "x": 13.1, "y": 0.32}, {"s": "ND3 (20 μM 4F)", "x": 14.5, "y": 0.327}, {"s": "ND3 (20 μM 4F)", "x": 16.4, "y": 0.334}, {"s": "ND3 (20 μM 4F)", "x": 18, "y": 0.336}, {"s": "ND3 (20 μM 4F)", "x": 20.3, "y": 0.342}, {"s": "ND3 (20 μM 4F)", "x": 21, "y": 0.348}, {"s": "ND3 (20 μM 4F)", "x": 22, "y": 0.345}, {"s": "ND3 (20 μM 4F)", "x": 23, "y": 0.354}, {"s": "ND3 (20 μM 4F)", "x": 24, "y": 0.351}, {"s": "ND3 (20 μM 4F)", "x": 25, "y": 0.36}, {"s": "ND3 (20 μM 4F)", "x": 26, "y": 0.358}, {"s": "ND3 (20 μM 4F)", "x": 27, "y": 0.368}, {"s": "ND3 (20 μM 4F)", "x": 27.8, "y": 0.366}, {"s": "ND3 (20 μM 4F)", "x": 28.3, "y": 0.39}, {"s": "ND3 (20 μM 4F)", "x": 28.7, "y": 0.37}, {"s": "ND3 (20 μM 4F)", "x": 29.3, "y": 0.378}, {"s": "ND3 (20 μM 4F)", "x": 30, "y": 0.38}, {"s": "ND3 (20 μM 4F)", "x": 30.5, "y": 0.388}, {"s": "ND3 (20 μM 4F)", "x": 31, "y": 0.382}, {"s": "ND3 (20 μM 4F)", "x": 31.5, "y": 0.39}, {"s": "ND3 (20 μM 4F)", "x": 32, "y": 0.386}, {"s": "ND3 (20 μM 4F)", "x": 32.5, "y": 0.395}, {"s": "ND3 (20 μM 4F)", "x": 33, "y": 0.39}, {"s": "ND3 (20 μM 4F)", "x": 33.5, "y": 0.4}, {"s": "ND3 (20 μM 4F)", "x": 34, "y": 0.395}, {"s": "ND3 (20 μM 4F)", "x": 34.5, "y": 0.402}, {"s": "ND3 (20 μM 4F)", "x": 35, "y": 0.398}, {"s": "ND3 (20 μM 4F)", "x": 35.5, "y": 0.406}, {"s": "ND3 (20 μM 4F)", "x": 36, "y": 0.4}, {"s": "ND3 (20 μM 4F)", "x": 36.5, "y": 0.41}, {"s": "ND3 (20 μM 4F)", "x": 37, "y": 0.405}, {"s": "ND3 (20 μM 4F)", "x": 37.5, "y": 0.412}, {"s": "ND3 (20 μM 4F)", "x": 38, "y": 0.408}, {"s": "ND3 (20 μM 4F)", "x": 38.5, "y": 0.416}, {"s": "ND3 (20 μM 4F)", "x": 39, "y": 0.41}, {"s": "ND3 (20 μM 4F)", "x": 39.5, "y": 0.418}, {"s": "ND3 (20 μM 4F)", "x": 40, "y": 0.414}, {"s": "ND3 (20 μM 4F)", "x": 40.5, "y": 0.422}, {"s": "ND3 (20 μM 4F)", "x": 41, "y": 0.417}, {"s": "ND3 (20 μM 4F)", "x": 41.5, "y": 0.425}, {"s": "ND3 (20 μM 4F)", "x": 42, "y": 0.42}, {"s": "ND3 (20 μM 4F)", "x": 42.5, "y": 0.428}, {"s": "ND3 (20 μM 4F)", "x": 43, "y": 0.423}, {"s": "ND3 (20 μM 4F)", "x": 43.5, "y": 0.432}, {"s": "ND3 (20 μM 4F)", "x": 44, "y": 0.427}, {"s": "ND3 (20 μM 4F)", "x": 44.5, "y": 0.435}, {"s": "ND3 (20 μM 4F)", "x": 45, "y": 0.43}, {"s": "ND3 (20 μM 4F)", "x": 45.5, "y": 0.438}, {"s": "ND3 (20 μM 4F)", "x": 46, "y": 0.433}, {"s": "ND3 (20 μM 4F)", "x": 46.5, "y": 0.442}, {"s": "ND3 (20 μM 4F)", "x": 47, "y": 0.437}, {"s": "ND3 (20 μM 4F)", "x": 47.5, "y": 0.446}, {"s": "ND3 (20 μM 4F)", "x": 48, "y": 0.442},
    {"s": "ND2 (5 μM 4F)", "x": 0, "y": 0.045}, {"s": "ND2 (5 μM 4F)", "x": 1, "y": 0.035}, {"s": "ND2 (5 μM 4F)", "x": 2.5, "y": 0.03}, {"s": "ND2 (5 μM 4F)", "x": 3.5, "y": 0.045}, {"s": "ND2 (5 μM 4F)", "x": 4.2, "y": 0.053}, {"s": "ND2 (5 μM 4F)", "x": 5.0, "y": 0.065}, {"s": "ND2 (5 μM 4F)", "x": 5.8, "y": 0.08}, {"s": "ND2 (5 μM 4F)", "x": 6.4, "y": 0.12}, {"s": "ND2 (5 μM 4F)", "x": 7.0, "y": 0.17}, {"s": "ND2 (5 μM 4F)", "x": 7.4, "y": 0.22}, {"s": "ND2 (5 μM 4F)", "x": 7.8, "y": 0.28}, {"s": "ND2 (5 μM 4F)", "x": 8.2, "y": 0.33}, {"s": "ND2 (5 μM 4F)", "x": 8.6, "y": 0.36}, {"s": "ND2 (5 μM 4F)", "x": 9.1, "y": 0.378}, {"s": "ND2 (5 μM 4F)", "x": 9.7, "y": 0.386}, {"s": "ND2 (5 μM 4F)", "x": 10.5, "y": 0.388}, {"s": "ND2 (5 μM 4F)", "x": 12.5, "y": 0.389}, {"s": "ND2 (5 μM 4F)", "x": 15, "y": 0.389}, {"s": "ND2 (5 μM 4F)", "x": 17, "y": 0.388}, {"s": "ND2 (5 μM 4F)", "x": 20, "y": 0.383}, {"s": "ND2 (5 μM 4F)", "x": 22, "y": 0.379}, {"s": "ND2 (5 μM 4F)", "x": 25, "y": 0.375}, {"s": "ND2 (5 μM 4F)", "x": 27.6, "y": 0.371}, {"s": "ND2 (5 μM 4F)", "x": 30, "y": 0.368}, {"s": "ND2 (5 μM 4F)", "x": 33.1, "y": 0.364}, {"s": "ND2 (5 μM 4F)", "x": 36, "y": 0.36}, {"s": "ND2 (5 μM 4F)", "x": 38.7, "y": 0.357}, {"s": "ND2 (5 μM 4F)", "x": 42, "y": 0.354}, {"s": "ND2 (5 μM 4F)", "x": 45, "y": 0.352}, {"s": "ND2 (5 μM 4F)", "x": 48, "y": 0.35},
    {"s": "5 μM Aβ40", "x": 0, "y": 0.04}, {"s": "5 μM Aβ40", "x": 2, "y": 0.03}, {"s": "5 μM Aβ40", "x": 4.2, "y": 0.03}, {"s": "5 μM Aβ40", "x": 4.5, "y": 0.1}, {"s": "5 μM Aβ40", "x": 4.8, "y": 0.22}, {"s": "5 μM Aβ40", "x": 5.0, "y": 0.27}, {"s": "5 μM Aβ40", "x": 5.4, "y": 0.31}, {"s": "5 μM Aβ40", "x": 5.8, "y": 0.33}, {"s": "5 μM Aβ40", "x": 6.4, "y": 0.35}, {"s": "5 μM Aβ40", "x": 7.0, "y": 0.37}, {"s": "5 μM Aβ40", "x": 7.6, "y": 0.39}, {"s": "5 μM Aβ40", "x": 8.1, "y": 0.4}, {"s": "5 μM Aβ40", "x": 9.2, "y": 0.405}, {"s": "5 μM Aβ40", "x": 10.0, "y": 0.4}, {"s": "5 μM Aβ40", "x": 10.9, "y": 0.4}, {"s": "5 μM Aβ40", "x": 12.0, "y": 0.402}, {"s": "5 μM Aβ40", "x": 13.0, "y": 0.41}, {"s": "5 μM Aβ40", "x": 14.2, "y": 0.42}, {"s": "5 μM Aβ40", "x": 15.5, "y": 0.43}, {"s": "5 μM Aβ40", "x": 17, "y": 0.444}, {"s": "5 μM Aβ40", "x": 18.5, "y": 0.452}, {"s": "5 μM Aβ40", "x": 20.3, "y": 0.462}, {"s": "5 μM Aβ40", "x": 22.5, "y": 0.468}, {"s": "5 μM Aβ40", "x": 24.8, "y": 0.473}, {"s": "5 μM Aβ40", "x": 27.5, "y": 0.476}, {"s": "5 μM Aβ40", "x": 30.3, "y": 0.478}, {"s": "5 μM Aβ40", "x": 33, "y": 0.477}, {"s": "5 μM Aβ40", "x": 35.9, "y": 0.475}, {"s": "5 μM Aβ40", "x": 38.5, "y": 0.47}, {"s": "5 μM Aβ40", "x": 41.5, "y": 0.465}, {"s": "5 μM Aβ40", "x": 44, "y": 0.463}, {"s": "5 μM Aβ40", "x": 46, "y": 0.465}, {"s": "5 μM Aβ40", "x": 48, "y": 0.468},
    {"s": "ND3 (10 μM 4F)", "x": 0, "y": 0.035}, {"s": "ND3 (10 μM 4F)", "x": 0.5, "y": 0.03}, {"s": "ND3 (10 μM 4F)", "x": 1, "y": 0.025}, {"s": "ND3 (10 μM 4F)", "x": 1.5, "y": 0.028}, {"s": "ND3 (10 μM 4F)", "x": 1.95, "y": 0.035}, {"s": "ND3 (10 μM 4F)", "x": 2.2, "y": 0.26}, {"s": "ND3 (10 μM 4F)", "x": 2.5, "y": 0.83}, {"s": "ND3 (10 μM 4F)", "x": 2.8, "y": 0.93}, {"s": "ND3 (10 μM 4F)", "x": 3.1, "y": 0.96}, {"s": "ND3 (10 μM 4F)", "x": 3.6, "y": 0.98}, {"s": "ND3 (10 μM 4F)", "x": 4.2, "y": 0.99}, {"s": "ND3 (10 μM 4F)", "x": 5, "y": 0.993}, {"s": "ND3 (10 μM 4F)", "x": 6, "y": 0.997}, {"s": "ND3 (10 μM 4F)", "x": 7, "y": 1.0}, {"s": "ND3 (10 μM 4F)", "x": 7.5, "y": 0.996}, {"s": "ND3 (10 μM 4F)", "x": 8, "y": 1.0}, {"s": "ND3 (10 μM 4F)", "x": 8.5, "y": 0.995}, {"s": "ND3 (10 μM 4F)", "x": 9, "y": 1.0}, {"s": "ND3 (10 μM 4F)", "x": 9.5, "y": 0.995}, {"s": "ND3 (10 μM 4F)", "x": 10, "y": 1.0}, {"s": "ND3 (10 μM 4F)", "x": 10.5, "y": 0.997}, {"s": "ND3 (10 μM 4F)", "x": 11, "y": 1.0}, {"s": "ND3 (10 μM 4F)", "x": 11.5, "y": 0.996}, {"s": "ND3 (10 μM 4F)", "x": 12, "y": 1.0}, {"s": "ND3 (10 μM 4F)", "x": 12.5, "y": 0.997}, {"s": "ND3 (10 μM 4F)", "x": 13, "y": 1.0}, {"s": "ND3 (10 μM 4F)", "x": 13.5, "y": 0.996}, {"s": "ND3 (10 μM 4F)", "x": 14, "y": 1.0}, {"s": "ND3 (10 μM 4F)", "x": 14.5, "y": 0.995}, {"s": "ND3 (10 μM 4F)", "x": 15, "y": 0.99}, {"s": "ND3 (10 μM 4F)", "x": 15.5, "y": 0.985}, {"s": "ND3 (10 μM 4F)", "x": 16, "y": 0.975}, {"s": "ND3 (10 μM 4F)", "x": 16.5, "y": 0.97}, {"s": "ND3 (10 μM 4F)", "x": 17, "y": 0.955}, {"s": "ND3 (10 μM 4F)", "x": 17.5, "y": 0.96}, {"s": "ND3 (10 μM 4F)", "x": 18, "y": 0.94}, {"s": "ND3 (10 μM 4F)", "x": 18.5, "y": 0.945}, {"s": "ND3 (10 μM 4F)", "x": 19, "y": 0.93}, {"s": "ND3 (10 μM 4F)", "x": 19.5, "y": 0.935}, {"s": "ND3 (10 μM 4F)", "x": 20, "y": 0.915}, {"s": "ND3 (10 μM 4F)", "x": 20.5, "y": 0.92}, {"s": "ND3 (10 μM 4F)", "x": 21, "y": 0.9}, {"s": "ND3 (10 μM 4F)", "x": 21.5, "y": 0.905}, {"s": "ND3 (10 μM 4F)", "x": 22, "y": 0.885}, {"s": "ND3 (10 μM 4F)", "x": 22.5, "y": 0.88}, {"s": "ND3 (10 μM 4F)", "x": 23, "y": 0.87}, {"s": "ND3 (10 μM 4F)", "x": 23.5, "y": 0.865}, {"s": "ND3 (10 μM 4F)", "x": 24, "y": 0.855}, {"s": "ND3 (10 μM 4F)", "x": 24.5, "y": 0.85}, {"s": "ND3 (10 μM 4F)", "x": 25, "y": 0.845}, {"s": "ND3 (10 μM 4F)", "x": 25.5, "y": 0.84}, {"s": "ND3 (10 μM 4F)", "x": 26, "y": 0.835}, {"s": "ND3 (10 μM 4F)", "x": 26.5, "y": 0.84}, {"s": "ND3 (10 μM 4F)", "x": 27, "y": 0.832}, {"s": "ND3 (10 μM 4F)", "x": 27.5, "y": 0.845}, {"s": "ND3 (10 μM 4F)", "x": 28, "y": 0.835}, {"s": "ND3 (10 μM 4F)", "x": 28.5, "y": 0.86}, {"s": "ND3 (10 μM 4F)", "x": 29, "y": 0.84}, {"s": "ND3 (10 μM 4F)", "x": 29.5, "y": 0.855}, {"s": "ND3 (10 μM 4F)", "x": 30, "y": 0.842}, {"s": "ND3 (10 μM 4F)", "x": 30.5, "y": 0.85}, {"s": "ND3 (10 μM 4F)", "x": 31, "y": 0.84}, {"s": "ND3 (10 μM 4F)", "x": 31.5, "y": 0.852}, {"s": "ND3 (10 μM 4F)", "x": 32, "y": 0.84}, {"s": "ND3 (10 μM 4F)", "x": 32.5, "y": 0.85}, {"s": "ND3 (10 μM 4F)", "x": 33, "y": 0.838}, {"s": "ND3 (10 μM 4F)", "x": 33.5, "y": 0.848}, {"s": "ND3 (10 μM 4F)", "x": 34, "y": 0.835}, {"s": "ND3 (10 μM 4F)", "x": 34.5, "y": 0.845}, {"s": "ND3 (10 μM 4F)", "x": 35, "y": 0.832}, {"s": "ND3 (10 μM 4F)", "x": 35.5, "y": 0.842}, {"s": "ND3 (10 μM 4F)", "x": 36, "y": 0.83}, {"s": "ND3 (10 μM 4F)", "x": 36.5, "y": 0.838}, {"s": "ND3 (10 μM 4F)", "x": 37, "y": 0.826}, {"s": "ND3 (10 μM 4F)", "x": 37.5, "y": 0.836}, {"s": "ND3 (10 μM 4F)", "x": 38, "y": 0.822}, {"s": "ND3 (10 μM 4F)", "x": 38.5, "y": 0.832}, {"s": "ND3 (10 μM 4F)", "x": 39, "y": 0.82}, {"s": "ND3 (10 μM 4F)", "x": 39.5, "y": 0.83}, {"s": "ND3 (10 μM 4F)", "x": 40, "y": 0.815}, {"s": "ND3 (10 μM 4F)", "x": 40.5, "y": 0.825}, {"s": "ND3 (10 μM 4F)", "x": 41, "y": 0.81}, {"s": "ND3 (10 μM 4F)", "x": 41.5, "y": 0.82}, {"s": "ND3 (10 μM 4F)", "x": 42, "y": 0.806}, {"s": "ND3 (10 μM 4F)", "x": 42.5, "y": 0.818}, {"s": "ND3 (10 μM 4F)", "x": 43, "y": 0.802}, {"s": "ND3 (10 μM 4F)", "x": 43.5, "y": 0.812}, {"s": "ND3 (10 μM 4F)", "x": 44, "y": 0.798}, {"s": "ND3 (10 μM 4F)", "x": 44.5, "y": 0.81}, {"s": "ND3 (10 μM 4F)", "x": 45, "y": 0.795}, {"s": "ND3 (10 μM 4F)", "x": 45.5, "y": 0.806}, {"s": "ND3 (10 μM 4F)", "x": 46, "y": 0.792}, {"s": "ND3 (10 μM 4F)", "x": 46.5, "y": 0.8}, {"s": "ND3 (10 μM 4F)", "x": 47, "y": 0.785}, {"s": "ND3 (10 μM 4F)", "x": 47.5, "y": 0.798}, {"s": "ND3 (10 μM 4F)", "x": 48, "y": 0.782}
  ],
  "d_labels": [
    {"s": "ND3 (10 μM 4F)", "x": 32.0, "y": 0.99},
    {"s": "ND2 (5 μM 4F)", "x": 13.4, "y": 0.682},
    {"s": "ND3 (20 μM 4F)", "x": 33.4, "y": 0.682},
    {"s": "ND2 (10 μM 4F)", "x": 12.9, "y": 0.52},
    {"s": "5 μM Aβ40", "x": 43.4, "y": 0.527},
    {"s": "ND1 (5 μM 4F)", "x": 25.1, "y": 0.147},
    {"s": "ND1 (10 μM 4F)", "x": 42.3, "y": 0.147}
  ],
  "d_note": [{"x": 47.3, "y": 0.045, "label": "**"}],
  "d_arrows": [
    {"x1": 44.5, "y1": 0.81, "x2": 34.8, "y2": 0.94},
    {"x1": 18.8, "y1": 0.386, "x2": 12.4, "y2": 0.62},
    {"x1": 37.3, "y1": 0.40, "x2": 31.0, "y2": 0.636},
    {"x1": 15.3, "y1": 0.238, "x2": 9.1, "y2": 0.475},
    {"x1": 20.9, "y1": 0.257, "x2": 23.3, "y2": 0.19},
    {"x1": 37.1, "y1": 0.278, "x2": 38.7, "y2": 0.205}
  ]
},
"columns": 1,
"align": "none",
"spacing": 30,
"concat": [
  {
    "spacing": 97,
    "hconcat": [
      {
        "width": 250, "height": 229,
        "title": {"text": "(a)", "dx": -64, "offset": 20},
        "encoding": {
          "x": {"field": "x", "type": "quantitative", "scale": {"domain": [0, 30], "nice": false, "zero": false}, "axis": {"title": "Elution volume (mL)", "titleFontSize": 18.5, "values": [0, 10, 20, 30], "tickSize": -15, "tickColor": "#888", "tickWidth": 1.5, "domainColor": "#999", "domainWidth": 1, "labelPadding": 27, "titlePadding": 1, "labelOverlap": false}},
          "y": {"field": "y", "type": "quantitative", "scale": {"domain": [0, 300, 500, 1000], "range": [228, 136, 124, 7], "nice": false, "zero": false}, "axis": {"title": "mAu", "titleFontSize": 18.5, "format": "d", "labelFontSize": 15, "values": [0, 100, 200, 300, 500, 600, 700, 800, 900, 1000], "tickSize": -9, "domainColor": "#aaa", "domainWidth": 1, "labelPadding": 24, "titleX": -46, "titleY": 105, "labelOverlap": false}}
        },
        "layer": [
          {
            "data": {"name": "a_rects"},
            "mark": {"type": "rect"},
            "encoding": {
              "x2": {"field": "xe"},
              "y2": {"datum": 0},
              "fill": {"field": "band", "type": "nominal", "scale": {"domain": ["ND1", "ND2", "ND3"], "range": ["#93CB8C", "#D8A3CE", "#EFEA6B"]}, "legend": null}
            }
          },
          {
            "data": {"name": "a_curves"},
            "mark": {"type": "line", "strokeWidth": 2, "interpolate": "monotone"},
            "encoding": {
              "stroke": {"field": "s", "type": "nominal", "scale": {"domain": ["ND1", "ND2", "ND3"], "range": ["#111111", "#6A9ED6", "#E8262B"]}, "legend": null},
              "detail": {"field": "seg", "type": "nominal"}
            }
          },
          {
            "data": {"name": "a_labels"},
            "mark": {"type": "text", "fontSize": 13, "color": "#222", "baseline": "middle"},
            "encoding": {
              "text": {"field": "label"}
            }
          },
          {
            "data": {"name": "a_break"},
            "mark": {"type": "text", "fontSize": 16, "fontWeight": "bold", "color": "#333", "baseline": "middle", "dx": 1},
            "encoding": {
              "text": {"field": "label"}
            }
          }
        ]
      },
      {
        "width": 253, "height": 229,
        "title": {"text": "(b)", "dx": -63, "offset": 20},
        "layer": [
          {
            "data": {"name": "b_rects"},
            "mark": {"type": "rect"},
            "encoding": {
              "x": {"field": "x0", "type": "quantitative", "scale": {"domain": [0, 40], "nice": false, "zero": false}, "axis": {"title": "Size (d.nm)", "titleFontSize": 18.5, "values": [0, 10, 20, 30, 40], "tickSize": -13, "tickColor": "#777", "tickWidth": 1.5, "labelPadding": 21, "titlePadding": 3}},
              "x2": {"field": "x1"},
              "y": {"field": "top", "type": "quantitative", "scale": {"domain": [0, 90], "nice": false, "zero": false}, "axis": {"title": "Intensity (%)", "titleFontSize": 18.5, "values": [0, 20, 40, 60, 80], "tickSize": 6, "labelPadding": 4, "titlePadding": 6}},
              "y2": {"datum": 0},
              "fill": {"field": "band", "type": "nominal", "scale": {"domain": ["ND1", "ND2", "ND3"], "range": ["#94CB8F", "#DBA5D0", "#EFEB73"]}, "legend": null}
            }
          },
          {
            "data": {"name": "b_curves"},
            "mark": {"type": "line", "strokeWidth": 2, "interpolate": "monotone"},
            "encoding": {
              "x": {"field": "x", "type": "quantitative"},
              "y": {"field": "y", "type": "quantitative"},
              "stroke": {"field": "s", "type": "nominal", "scale": {"domain": ["ND1", "ND2", "ND3"], "range": ["#111111", "#6A9ED6", "#E8262B"]}, "legend": null}
            }
          },
          {
            "data": {"name": "b_labels"},
            "mark": {"type": "text", "fontSize": 13.5, "color": "#222", "baseline": "middle"},
            "encoding": {
              "x": {"field": "x", "type": "quantitative"},
              "y": {"field": "y", "type": "quantitative"},
              "text": {"field": "label"}
            }
          }
        ]
      }
    ]
  },
  {
    "spacing": 20,
    "hconcat": [
      {
        "width": 329, "height": 231,
        "title": {"text": "(c)", "dx": -54, "offset": 7},
        "resolve": {"scale": {"color": "independent"}},
        "layer": [
          {
            "data": {"name": "c_ref"},
            "mark": {"type": "line", "strokeWidth": 2.2},
            "encoding": {
              "x": {"field": "x", "type": "quantitative", "scale": {"domain": [0, 48], "range": [11, 329], "nice": false, "zero": false}, "axis": {"title": "Time (hour)", "values": [0, 6, 12, 18, 24, 30, 36, 42, 48], "tickSize": 5, "labelPadding": 2, "titlePadding": 4}},
              "y": {"field": "y", "type": "quantitative", "scale": {"domain": [0, 1], "range": [231, 19], "nice": false, "zero": false}, "axis": {"title": "Normalized ThT fluorescence", "offset": -11, "values": [0, 0.2, 0.4, 0.6, 0.8, 1.0], "format": ".1f", "tickSize": 5, "labelPadding": 2, "titlePadding": 10}},
              "color": {"field": "s", "type": "nominal", "scale": {"domain": ["Aβ40 5 μM", "4F 10 μM"], "range": ["#111111", "#E42527"]}, "legend": {"orient": "none", "legendX": 142, "legendY": 149, "title": null, "symbolType": "square", "symbolSize": 25, "symbolStrokeWidth": 5, "rowPadding": -4, "labelOffset": 4}},
              "strokeDash": {"condition": {"test": "datum.s === 'Aβ40 5 μM'", "value": [6, 4]}, "value": [1, 0]}
            }
          },
          {
            "data": {"name": "c_ab"},
            "mark": {"type": "line", "strokeWidth": 1.8},
            "encoding": {
              "x": {"field": "x", "type": "quantitative"},
              "y": {"field": "y", "type": "quantitative"},
              "color": {"field": "s", "type": "nominal", "scale": {"domain": ["Aβ+ 10 μM 4F", "Aβ+ 5 μM 4F", "Aβ+ 1 μM 4F"], "range": ["#FBB33A", "#A3449C", "#2F4F85"]}, "legend": {"orient": "none", "legendX": 227, "legendY": 146, "title": null, "symbolType": "square", "symbolSize": 25, "symbolStrokeWidth": 5, "rowPadding": -4, "labelOffset": 4}}
            }
          }
        ]
      },
      {
        "width": 287, "height": 231,
        "title": {"text": "(d)", "dx": -60, "offset": 2},
        "layer": [
          {
            "data": {"name": "d_curves"},
            "mark": {"type": "line", "strokeWidth": 2.2},
            "encoding": {
              "x": {"field": "x", "type": "quantitative", "scale": {"domain": [0, 48], "nice": false, "zero": false}, "axis": {"title": "Time (hour)", "values": [0, 6, 12, 18, 24, 30, 36, 42, 48], "tickSize": 5, "labelPadding": 2, "titlePadding": 4, "titleX": 163}},
              "y": {"field": "y", "type": "quantitative", "scale": {"domain": [0, 1], "range": [230, 0], "nice": false, "zero": false}, "axis": {"title": null, "values": [0, 0.2, 0.4, 0.6, 0.8, 1.0], "format": ".1f", "tickSize": 5, "labelPadding": 1}},
              "color": {"field": "s", "type": "nominal", "scale": {"domain": ["ND3 (10 μM 4F)", "ND2 (5 μM 4F)", "ND3 (20 μM 4F)", "ND2 (10 μM 4F)", "5 μM Aβ40", "ND1 (5 μM 4F)", "ND1 (10 μM 4F)", "4F", "buffer"], "range": ["#8A6A1F", "#C59DD5", "#CDC236", "#7A1E5C", "#000000", "#8FCF6E", "#1D6830", "#E62429", "#5A7FC0"]}, "legend": null},
              "strokeDash": {"condition": {"test": "datum.s === '5 μM Aβ40'", "value": [6, 4]}, "value": [1, 0]}
            }
          },
          {
            "data": {"name": "d_arrows"},
            "mark": {"type": "rule", "color": "#000", "strokeWidth": 1.2},
            "encoding": {
              "x": {"field": "x1", "type": "quantitative"},
              "y": {"field": "y1", "type": "quantitative"},
              "x2": {"field": "x2"},
              "y2": {"field": "y2"}
            }
          },
          {
            "data": {"name": "d_arrows"},
            "transform": [{"calculate": "atan2((datum.x2-datum.x1)*5.98,(datum.y2-datum.y1)*230.6)*180/PI", "as": "ang"}],
            "mark": {"type": "point", "shape": "triangle", "filled": true, "size": 35, "color": "#000", "opacity": 1},
            "encoding": {
              "x": {"field": "x2", "type": "quantitative"},
              "y": {"field": "y2", "type": "quantitative"},
              "angle": {"field": "ang", "type": "quantitative", "scale": null}
            }
          },
          {
            "data": {"name": "d_labels"},
            "mark": {"type": "text", "fontSize": 15, "fontWeight": "bold", "baseline": "middle"},
            "encoding": {
              "x": {"field": "x", "type": "quantitative"},
              "y": {"field": "y", "type": "quantitative"},
              "text": {"field": "s"},
              "color": {"field": "s", "type": "nominal", "legend": null}
            }
          },
          {
            "data": {"name": "d_note"},
            "mark": {"type": "text", "fontSize": 10, "color": "#444", "baseline": "middle"},
            "encoding": {
              "x": {"field": "x", "type": "quantitative"},
              "y": {"field": "y", "type": "quantitative"},
              "text": {"field": "label"}
            }
          }
        ]
      }
    ]
  }
]
}
